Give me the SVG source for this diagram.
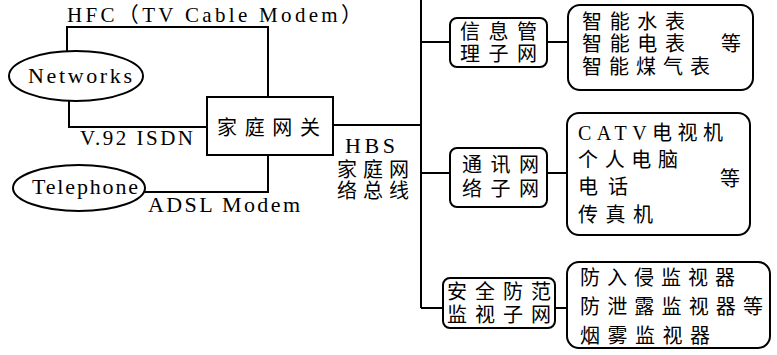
<svg xmlns="http://www.w3.org/2000/svg" width="777" height="355" viewBox="0 0 777 355">
<style>
.ln{fill:none;stroke:#000;stroke-width:2}
.bx{fill:#fff;stroke:#000;stroke-width:2}
.t{font-family:"Liberation Serif","Noto Sans CJK SC",serif;font-size:22px;fill:#000}
.c{font-family:"Liberation Serif","Noto Sans CJK SC",serif;font-size:20px;fill:#000}
</style>
<rect width="777" height="355" fill="#fff"/>
<g id="connectors">
<polyline class="ln" points="67,51 67,27 268,27 268,97"/>
<polyline class="ln" points="69,100 69,127 207,127"/>
<polyline class="ln" points="268,155 268,192 145,192"/>
<line class="ln" x1="333" y1="125" x2="421" y2="125"/>
<line class="ln" x1="421" y1="0" x2="421" y2="308"/>
<line class="ln" x1="421" y1="42" x2="450" y2="42"/>
<line class="ln" x1="547" y1="42" x2="568" y2="42"/>
<line class="ln" x1="421" y1="173" x2="450" y2="173"/>
<line class="ln" x1="547" y1="173" x2="567" y2="173"/>
<line class="ln" x1="421" y1="308" x2="443" y2="308"/>
<line class="ln" x1="555" y1="308" x2="567" y2="308"/>
</g>
<text class="t" x="67" y="22" textLength="295" lengthAdjust="spacing" style="font-size:21px">HFC（TV Cable Modem）</text>
<text class="t" x="80" y="145" textLength="113" lengthAdjust="spacing" style="font-size:21px">V.92 ISDN</text>
<text class="t" x="148" y="212" textLength="152" lengthAdjust="spacing">ADSL Modem</text>
<g id="networks">
<ellipse class="bx" cx="76" cy="76" rx="67" ry="25"/>
<text class="t" x="28" y="83" textLength="104" lengthAdjust="spacing">Networks</text>
</g>
<g id="telephone">
<ellipse class="bx" cx="79" cy="188" rx="66" ry="23"/>
<text class="t" x="32" y="194" textLength="106" lengthAdjust="spacing">Telephone</text>
</g>
<g id="gateway">
<rect class="bx" x="207" y="97" width="126" height="58"/>
<text class="c" x="217" y="135" textLength="103" lengthAdjust="spacing">家庭网关</text>
</g>
<g id="hbs">
<text class="t" x="345" y="153" textLength="50" lengthAdjust="spacing">HBS</text>
<text class="c" x="337" y="177" textLength="72" lengthAdjust="spacing">家庭网</text>
<text class="c" x="337" y="198" textLength="72" lengthAdjust="spacing">络总线</text>
</g>
<g id="info">
<rect class="bx" x="450" y="18" width="97" height="49" rx="7"/>
<text class="c" x="460" y="39" textLength="77" lengthAdjust="spacing">信息管</text>
<text class="c" x="460" y="61" textLength="77" lengthAdjust="spacing">理子网</text>
</g>
<g id="info-items">
<rect class="bx" x="568" y="5" width="185" height="85" rx="12"/>
<text class="c" x="582" y="29" textLength="103" lengthAdjust="spacing">智能水表</text>
<text class="c" x="582" y="51" textLength="103" lengthAdjust="spacing">智能电表</text>
<text class="c" x="721" y="51">等</text>
<text class="c" x="582" y="74" textLength="128" lengthAdjust="spacing">智能煤气表</text>
</g>
<g id="comm">
<rect class="bx" x="450" y="148" width="97" height="59" rx="7"/>
<text class="c" x="462" y="172" textLength="77" lengthAdjust="spacing">通讯网</text>
<text class="c" x="462" y="196" textLength="77" lengthAdjust="spacing">络子网</text>
</g>
<g id="comm-items">
<rect class="bx" x="567" y="113" width="183" height="122" rx="12"/>
<text class="c" x="578" y="140" textLength="145" lengthAdjust="spacing">CATV电视机</text>
<text class="c" x="578" y="167" textLength="100" lengthAdjust="spacing">个人电脑</text>
<text class="c" x="578" y="194" textLength="50" lengthAdjust="spacing">电话</text>
<text class="c" x="720" y="186">等</text>
<text class="c" x="578" y="222" textLength="75" lengthAdjust="spacing">传真机</text>
</g>
<g id="security">
<rect class="bx" x="443" y="278" width="112" height="50" rx="7"/>
<text class="c" x="447" y="299" textLength="104" lengthAdjust="spacing">安全防范</text>
<text class="c" x="447" y="322" textLength="104" lengthAdjust="spacing">监视子网</text>
</g>
<g id="security-items">
<rect class="bx" x="567" y="262" width="203" height="86" rx="12"/>
<text class="c" x="580" y="285" textLength="155" lengthAdjust="spacing">防入侵监视器</text>
<text class="c" x="580" y="314" textLength="183" lengthAdjust="spacing">防泄露监视器等</text>
<text class="c" x="580" y="343" textLength="130" lengthAdjust="spacing">烟雾监视器</text>
</g>
</svg>
